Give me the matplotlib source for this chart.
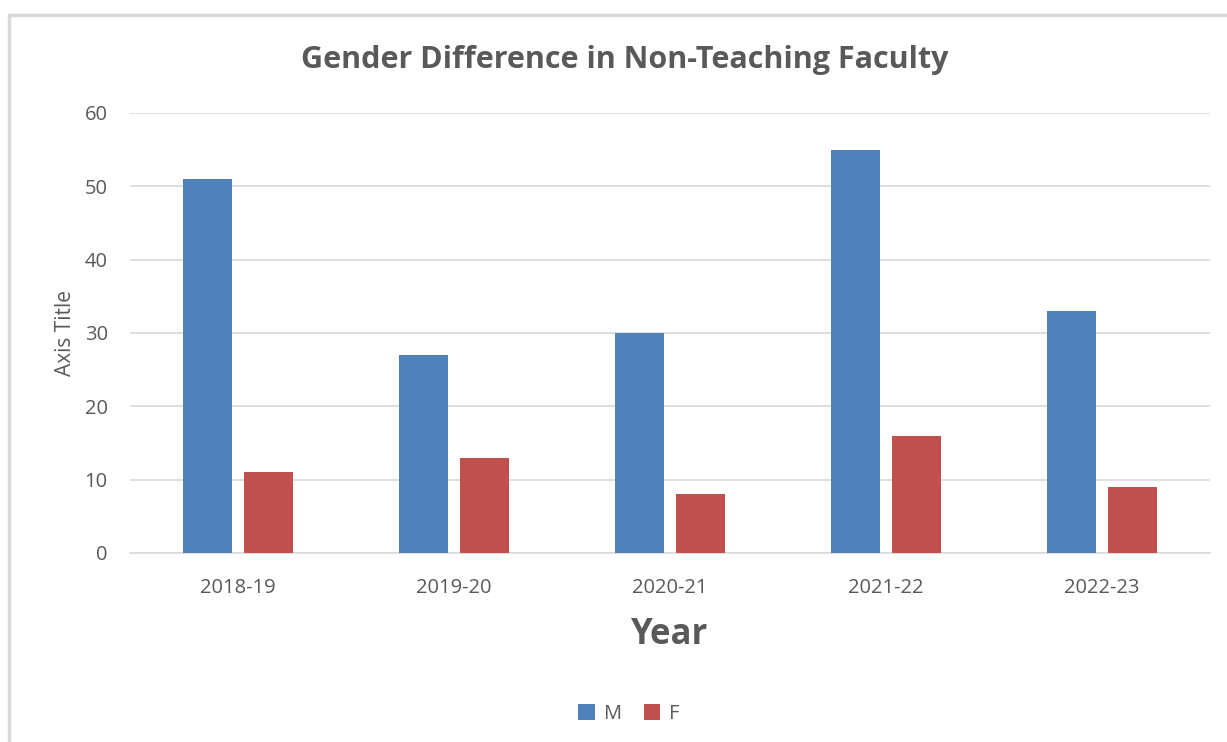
import matplotlib
matplotlib.use("Agg")
import matplotlib.pyplot as plt
from matplotlib.patches import Rectangle
import numpy as np

years = ["2018-19", "2019-20", "2020-21", "2021-22", "2022-23"]
male = [51, 27, 30, 55, 33]
female = [11, 13, 8, 16, 9]

plt.rcParams['font.family'] = ['Open Sans', 'DejaVu Sans']
W, H = 1227, 742
fig = plt.figure(figsize=(W/100, H/100), dpi=100)
fig.patch.set_facecolor('white')

# chart border
fig.patches.append(Rectangle((9/W, -0.1), 1.2, 1 - 15/H + 0.1, transform=fig.transFigure,
                             fill=False, edgecolor='#d9d9d9', linewidth=2.5))

ax = fig.add_axes([130/W, 1 - 553/H, (1210-130)/W, (553-113)/H])
x = np.arange(len(years))
bw = 0.227
off = 0.143
ax.bar(x - off, male, bw, color='#4f81bd', label='M', zorder=3)
ax.bar(x + off, female, bw, color='#c0504d', label='F', zorder=3)

ax.set_xlim(-0.5, len(years) - 0.5)
ax.set_ylim(0, 60)
ax.set_yticks(range(0, 61, 10))
ax.yaxis.grid(True, color='#d9d9d9', linewidth=1.2, zorder=0)
for s in ['top', 'right', 'left']:
    ax.spines[s].set_visible(False)
ax.spines['bottom'].set_color('#d9d9d9')
ax.spines['bottom'].set_linewidth(1.2)
ax.tick_params(axis='both', length=0, labelsize=14.5, colors='#595959')
ax.tick_params(axis='y', pad=16)
ax.tick_params(axis='x', pad=18)
ax.set_xticks(x)
ax.set_xticklabels(years)

ax.set_ylabel('Axis Title', fontsize=15, color='#595959', labelpad=6)
ax.set_xlabel('Year', fontsize=25, fontweight='bold', color='#595959', labelpad=14)

fig.text(625/W, 1 - 60/H, 'Gender Difference in Non-Teaching Faculty', ha='center', va='center',
         fontsize=22, fontweight='bold', color='#595959')

leg = fig.legend(loc='center', bbox_to_anchor=(629/W, 1 - 714/H), ncol=2, frameon=False,
                 fontsize=14.5, handlelength=0.8, handleheight=0.8, handletextpad=0.45,
                 columnspacing=1.1)
for t in leg.get_texts():
    t.set_color('#595959')

fig.savefig('out.png', dpi=100, facecolor='white')
